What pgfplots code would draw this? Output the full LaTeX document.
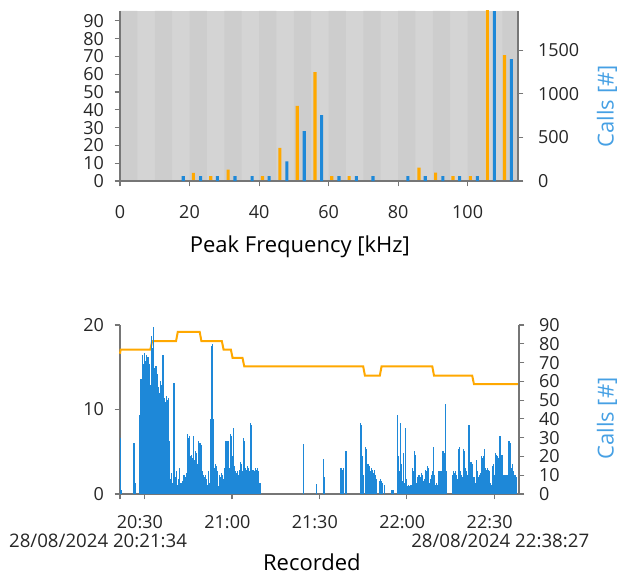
\documentclass[border=0pt]{standalone}
\usepackage{fontspec}
\setmainfont{Open Sans}
\usepackage{pgfplots}
\pgfplotsset{compat=1.18}

\definecolor{corange}{RGB}{255,168,0}
\definecolor{cblue}{RGB}{30,136,216}
\definecolor{clabel}{RGB}{70,160,228}
\definecolor{bandA}{RGB}{212,212,212}
\definecolor{bandB}{RGB}{205,205,205}
\definecolor{axgray}{RGB}{118,118,118}

\pgfplotsset{
  base/.style={
    scale only axis,
    axis line style={-,axgray,line width=1.1pt},
    tick style={axgray,line width=0.8pt},
    major tick length=4pt,
    tick align=outside,
    tick label style={font=\fontsize{13.5}{15}\selectfont,color=black!85},
    label style={font=\fontsize{16.5}{18}\selectfont},
    /pgf/number format/assume math mode=true,
    /pgf/number format/1000 sep={},
    scaled ticks=false,
  },
  lefty/.style={yticklabel style={xshift=-4.5pt}},
  righty/.style={yticklabel style={xshift=7.5pt}},
}

\begin{document}
\begin{tikzpicture}
\useasboundingbox (-90pt,-61.5pt) rectangle (377.25pt,370.5pt);

% ---------- top: peak frequency ----------
\begin{axis}[base, lefty,
  at={(0pt,234.75pt)}, anchor=south west,
  width=298.5pt, height=127.5pt,
  xmin=0, xmax=114.5, ymin=0, ymax=95.5,
  axis x line*=bottom, axis y line*=left,
  axis on top,
  axis background/.style={fill=bandA},
  xtick={0,20,40,60,80,100}, ytick={0,10,...,90},
  xticklabel style={yshift=-10.5pt},
  xlabel={Peak Frequency [kHz]},
  xlabel style={at={(axis description cs:0.452,0)},anchor=center,yshift=-49.5pt},
]
\addplot[ybar, bar shift=0pt, bar width=5, fill=bandB, draw=none] coordinates {
(2.5,95.5) (12.5,95.5) (22.5,95.5) (32.5,95.5) (42.5,95.5) (52.5,95.5)
(62.5,95.5) (72.5,95.5) (82.5,95.5) (92.5,95.5) (102.5,95.5) (112.5,95.5)};
\addplot[ybar, bar shift=0pt, bar width=0.9, fill=corange, draw=none] coordinates {
(21.1,4.5) (26.1,2.8) (31.1,6.4) (41.0,2.8) (46.0,18.6) (51.0,42.2) (56.1,61.2)
(60.9,2.8) (65.9,2.8) (86.0,7.5) (90.8,4.7) (95.8,2.8) (100.8,2.8) (105.7,100) (110.6,70.7)};
\end{axis}

\begin{axis}[base, righty,
  at={(0pt,234.75pt)}, anchor=south west,
  width=298.5pt, height=127.5pt,
  xmin=0, xmax=114.5, ymin=0, ymax=1950,
  axis y line*=right, axis x line=none,
  ytick={0,500,1000,1500},
  ylabel={Calls [\#]},
  ylabel style={at={(axis description cs:1.2236,0.44)},anchor=center,color=clabel},
]
\addplot[ybar, bar shift=0pt, bar width=0.9, fill=cblue, draw=none] coordinates {
(18.2,55) (23.2,55) (28.0,55) (33.1,55) (38.0,55) (42.9,55) (48.0,226) (53.0,571)
(58.0,755) (63.0,55) (68.0,55) (72.8,55) (82.8,55) (87.8,55) (92.9,55) (97.7,55)
(102.8,55) (107.7,2500) (112.6,1399)};
\end{axis}

% ---------- bottom: recorded ----------
\begin{axis}[base, lefty,
  at={(0pt,0pt)}, anchor=south west,
  width=299.25pt, height=126.75pt,
  xmin=21.57, xmax=158.45, ymin=0, ymax=20,
  axis x line*=bottom, axis y line*=left,
  clip=false,
  xtick={21.57,30,60,90,120,150},
  xticklabels={,20:30,21:00,21:30,22:00,22:30},
  xticklabel style={yshift=-8.5pt,xshift=-3.5pt},
  ytick={0,10,20},
  xlabel={Recorded},
  xlabel style={at={(axis description cs:0.481,0)},anchor=center,yshift=-51pt},
]
\addplot[corange, line width=1.5pt, mark=none] coordinates {
(21.57,16.6) (21.8,17.1) (32.0,17.1) (32.6,18.1) (40.8,18.1) (41.4,19.2) (48.9,19.2)
(49.5,18.1) (56.5,18.1) (57.1,17.1) (59.6,17.1) (60.2,16.1) (63.6,16.1) (64.2,15.1)
(105.0,15.1) (105.6,14.0) (110.7,14.0) (111.3,15.1) (128.7,15.1) (129.3,14.0)
(142.4,14.0) (143.0,13.0) (158.45,13.0)};
\node[font=\fontsize{14}{16}\selectfont,color=black!85] at (axis description cs:-0.055,0) [yshift=-35.25pt] {28/08/2024 20:21:34};
\node[font=\fontsize{14}{16}\selectfont,color=black!85] at (axis description cs:0.953,0) [yshift=-35.25pt] {28/08/2024 22:38:27};
\end{axis}

\begin{axis}[base, righty,
  at={(0pt,0pt)}, anchor=south west,
  width=299.25pt, height=126.75pt,
  xmin=21.57, xmax=158.45, ymin=0, ymax=90,
  axis y line*=right, axis x line=none,
  ytick={0,10,...,90},
  ylabel={Calls [\#]},
  ylabel style={at={(axis description cs:1.2206,0.447)},anchor=center,color=clabel},
]
\addplot[ycomb, draw=cblue, line width=0.9pt, mark=none] coordinates {
(21.6,30) (21.9,2) (26.4,27) (26.7,6)
(28.2,42) (28.5,58) (28.8,61) (29.1,59) (29.4,74) (29.7,69) (30.0,75) (30.3,71)
(30.6,74) (30.9,64) (31.2,73) (31.5,69) (31.8,61) (32.1,58) (32.4,84) (32.7,78)
(33.0,89) (33.3,67) (33.6,65) (33.9,68) (34.2,61) (34.5,64) (34.8,57) (35.1,54)
(35.4,60) (35.7,58) (36.0,52) (36.3,74) (36.6,53) (36.9,51) (37.2,49) (37.5,52)
(37.8,50) (38.1,51) (38.4,28) (38.8,8) (39.2,11) (39.6,6) (40.1,59) (40.5,9)
(40.9,12) (41.3,5) (41.7,8) (42.1,14) (42.5,6) (42.9,4) (43.2,7)
(43.5,10) (43.9,9) (44.3,11) (44.8,32) (45.1,30) (45.5,31) (45.9,20) (46.2,21)
(46.5,19) (46.9,31) (47.2,18) (47.5,23) (47.8,22) (48.1,16) (48.4,28) (48.7,27)
(49.0,20) (49.3,27) (49.6,26) (49.9,12) (50.3,10) (50.6,9) (51.0,10) (51.3,8)
(51.7,5) (52.0,12) (52.4,6) (52.7,40) (53.0,79) (53.3,80) (53.7,40) (54.0,14)
(54.3,16) (54.6,15) (54.9,12) (55.2,4) (55.8,10) (56.1,9) (56.4,11) (56.8,10)
(57.1,8) (57.5,14) (57.9,28) (58.3,18) (58.6,28) (58.9,22) (59.3,14) (59.6,32)
(59.9,31) (60.3,20) (60.6,35) (60.9,15) (61.2,12) (61.5,11) (61.9,12) (62.2,10)
(62.6,13) (62.9,17) (63.2,16) (63.6,12) (63.9,30) (64.3,28) (64.6,14) (64.9,13)
(65.3,15) (65.6,14) (66.0,12) (66.4,38) (66.8,37) (67.2,13) (67.6,12) (68.0,14)
(68.3,13) (68.7,14) (69.0,12) (69.6,6)
(84.5,26.5) (89.0,5.5) (91.4,18.5) (91.7,9)
(97.4,14) (97.8,13) (98.2,14) (99.1,23)
(104.2,38) (104.5,37) (104.8,20) (105.2,10) (105.7,25) (106.0,24) (106.4,16)
(106.8,16) (107.1,15) (107.5,12) (107.8,14) (108.2,13) (108.5,11) (108.9,13)
(109.2,10) (109.6,8) (110.5,7) (110.9,8) (111.2,7) (111.6,6) (112.2,5)
(114.6,2) (115.0,2) (115.4,2)
(116.7,42) (117.0,20) (117.4,12) (117.8,38) (118.1,16) (118.5,7) (118.8,22)
(119.2,6) (119.5,35) (119.9,8) (120.3,4) (120.6,5) (121.0,4) (121.4,5) (121.8,14)
(122.1,12) (122.5,23) (122.8,21) (123.2,6) (123.6,9) (123.9,10) (124.3,10)
(124.6,9) (125.0,11) (125.3,10) (125.7,7) (126.0,8) (126.4,13) (126.7,12)
(127.1,15) (127.4,14) (127.8,6) (128.1,8) (128.5,10) (128.8,12) (129.2,25)
(129.5,10) (129.9,5) (130.2,6) (130.6,5) (131.0,12) (131.3,11) (131.7,12)
(132.0,10) (132.4,23) (132.7,22) (133.1,48) (133.4,12)
(135.6,10) (135.9,12) (136.3,11) (136.6,12) (137.0,10) (137.4,8) (137.7,24)
(138.1,25) (138.4,12) (138.8,10) (139.1,9) (139.5,24) (139.8,23) (140.2,14)
(140.5,12) (140.9,10) (141.3,37) (141.6,36) (142.0,17) (142.3,16) (142.7,8)
(143.0,9) (143.4,6) (143.8,18) (144.1,12) (144.5,9) (144.8,10) (145.2,11)
(145.5,20) (145.9,19) (146.2,20) (146.6,24) (147.0,14) (147.3,13) (147.7,14)
(148.0,13) (148.4,12) (148.7,6) (149.1,5) (149.4,15) (149.8,16) (150.1,10)
(150.5,22) (150.8,21) (151.2,20) (151.5,19) (151.9,31) (152.2,22) (152.6,21)
(152.9,20) (153.3,10) (153.6,9) (154.0,10) (154.3,9) (154.7,10) (155.0,28)
(155.4,27) (155.7,14) (156.1,16) (156.4,12) (156.8,10) (157.1,10) (157.5,9)};
\end{axis}
\end{tikzpicture}
\end{document}
